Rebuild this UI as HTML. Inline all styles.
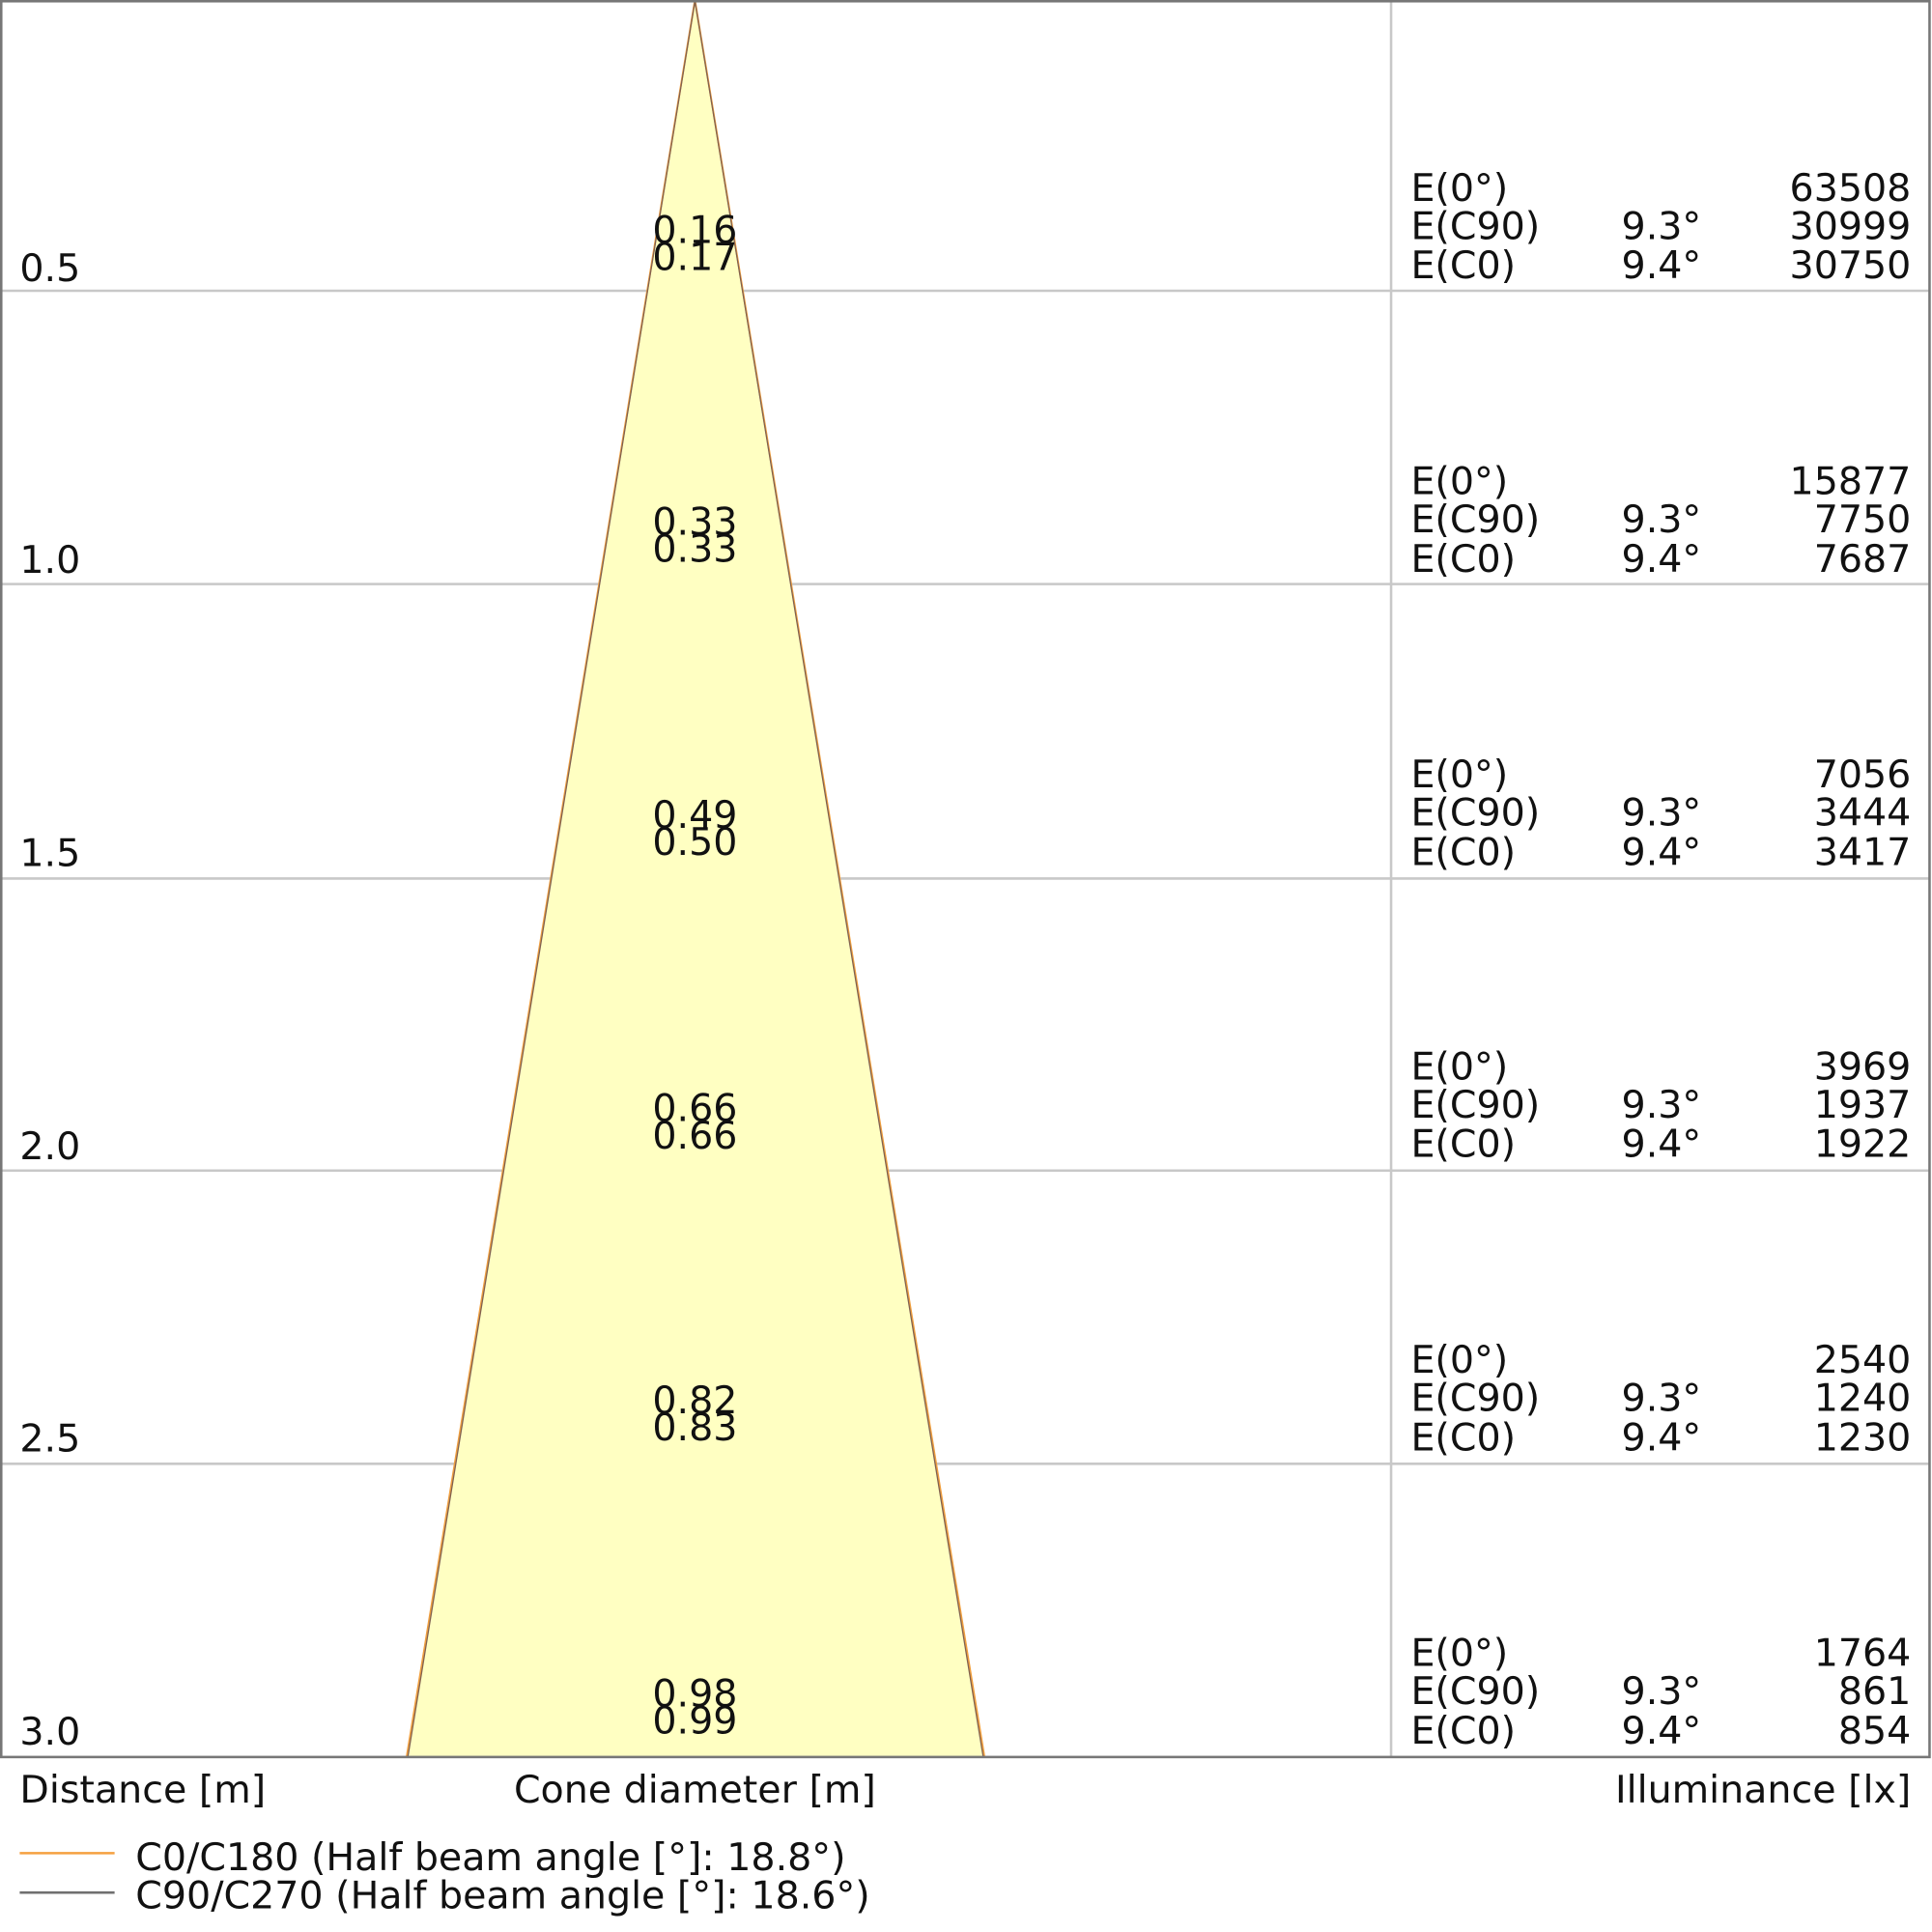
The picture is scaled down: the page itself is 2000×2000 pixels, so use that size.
<!DOCTYPE html>
<html><head><meta charset="utf-8"><style>html,body{margin:0;padding:0;background:#fff}svg{display:block}</style></head><body>
<svg width="2000" height="2000" viewBox="0 0 1568 1568" xmlns="http://www.w3.org/2000/svg" font-family="DejaVu Sans, Liberation Sans, sans-serif" font-size="31" fill="#111">
<rect width="1568" height="1568" fill="#fff"/>
<g stroke="#c8c8c8" stroke-width="2">
<line x1="1" y1="236" x2="1566" y2="236"/><line x1="1" y1="474" x2="1566" y2="474"/><line x1="1" y1="713" x2="1566" y2="713"/><line x1="1" y1="950" x2="1566" y2="950"/><line x1="1" y1="1188" x2="1566" y2="1188"/>
<line x1="1129" y1="1" x2="1129" y2="1426"/>
</g>
<polygon points="564,0 330,1426 799,1426" fill="#ffffc2"/>
<polyline points="330,1426 564,0 799,1426" fill="none" stroke="#f0a040" stroke-width="1.5"/>
<polyline points="331,1426 564,1 798,1426" fill="none" stroke="#806050" stroke-width="1"/>
<rect x="1" y="1" width="1565" height="1425" fill="none" stroke="#777" stroke-width="2"/>
<g>
<text x="16" y="228">0.5</text><text x="16" y="465">1.0</text><text x="16" y="703">1.5</text><text x="16" y="941">2.0</text><text x="16" y="1178">2.5</text><text x="16" y="1416">3.0</text>
</g>
<g text-anchor="middle">
<text x="564" y="197">0.16</text><text x="564" y="219">0.17</text>
<text x="564" y="434">0.33</text><text x="564" y="456">0.33</text>
<text x="564" y="672">0.49</text><text x="564" y="694">0.50</text>
<text x="564" y="910">0.66</text><text x="564" y="932">0.66</text>
<text x="564" y="1147">0.82</text><text x="564" y="1169">0.83</text>
<text x="564" y="1385">0.98</text><text x="564" y="1407">0.99</text>
</g>
<g>
<text x="1145" y="163">E(0°)</text><text x="1145" y="194">E(C90)</text><text x="1145" y="226">E(C0)</text>
<text x="1145" y="401">E(0°)</text><text x="1145" y="432">E(C90)</text><text x="1145" y="464">E(C0)</text>
<text x="1145" y="639">E(0°)</text><text x="1145" y="670">E(C90)</text><text x="1145" y="702">E(C0)</text>
<text x="1145" y="876">E(0°)</text><text x="1145" y="907">E(C90)</text><text x="1145" y="939">E(C0)</text>
<text x="1145" y="1114">E(0°)</text><text x="1145" y="1145">E(C90)</text><text x="1145" y="1177">E(C0)</text>
<text x="1145" y="1352">E(0°)</text><text x="1145" y="1383">E(C90)</text><text x="1145" y="1415">E(C0)</text>
<text x="1316" y="194">9.3°</text><text x="1316" y="226">9.4°</text>
<text x="1316" y="432">9.3°</text><text x="1316" y="464">9.4°</text>
<text x="1316" y="670">9.3°</text><text x="1316" y="702">9.4°</text>
<text x="1316" y="907">9.3°</text><text x="1316" y="939">9.4°</text>
<text x="1316" y="1145">9.3°</text><text x="1316" y="1177">9.4°</text>
<text x="1316" y="1383">9.3°</text><text x="1316" y="1415">9.4°</text>
</g>
<g text-anchor="end">
<text x="1551" y="163">63508</text><text x="1551" y="194">30999</text><text x="1551" y="226">30750</text>
<text x="1551" y="401">15877</text><text x="1551" y="432">7750</text><text x="1551" y="464">7687</text>
<text x="1551" y="639">7056</text><text x="1551" y="670">3444</text><text x="1551" y="702">3417</text>
<text x="1551" y="876">3969</text><text x="1551" y="907">1937</text><text x="1551" y="939">1922</text>
<text x="1551" y="1114">2540</text><text x="1551" y="1145">1240</text><text x="1551" y="1177">1230</text>
<text x="1551" y="1352">1764</text><text x="1551" y="1383">861</text><text x="1551" y="1415">854</text>
<text x="1551" y="1463">Illuminance [lx]</text>
</g>
<text x="16" y="1463">Distance [m]</text>
<text x="564" y="1463" text-anchor="middle">Cone diameter [m]</text>
<line x1="16" y1="1504" x2="93" y2="1504" stroke="#f5a040" stroke-width="2"/>
<line x1="16" y1="1536" x2="93" y2="1536" stroke="#707070" stroke-width="2"/>
<text x="110" y="1518">C0/C180 (Half beam angle [°]: 18.8°)</text>
<text x="110" y="1549">C90/C270 (Half beam angle [°]: 18.6°)</text>
</svg>
</body></html>
